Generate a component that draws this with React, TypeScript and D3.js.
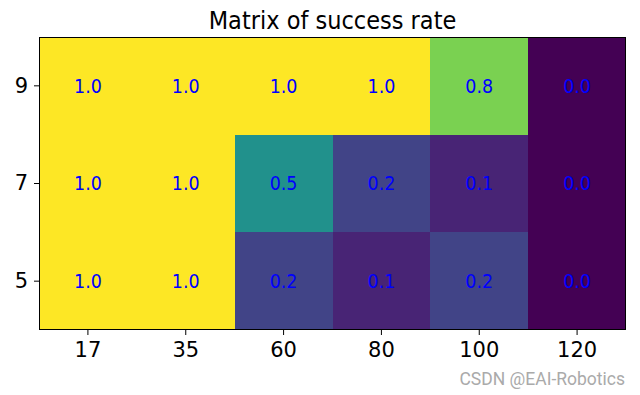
import { useEffect, useRef } from "react";
import * as d3 from "d3";

const xLabels = ["17", "35", "60", "80", "100", "120"];
const yLabels = ["9", "7", "5"];
const row9 = [1.0, 1.0, 1.0, 1.0, 0.8, 0.0];
const row7 = [1.0, 1.0, 0.5, 0.2, 0.1, 0.0];
const row5 = [1.0, 1.0, 0.2, 0.1, 0.2, 0.0];
const rows = [row9, row7, row5];

export default function App() {
  const svgRef = useRef<SVGSVGElement | null>(null);

  useEffect(() => {
    if (!svgRef.current) return;
    const W = 640;
    const H = 395;
    const margin = { top: 37, right: 14, bottom: 65, left: 39 };
    const width = W - margin.left - margin.right;
    const height = H - margin.top - margin.bottom;

    const root = d3.select(svgRef.current);
    root.selectAll("*").remove();
    root.attr("width", W).attr("height", H);

    root.append("rect").attr("width", W).attr("height", H).attr("fill", "#fff");

    const svg = root
      .append("g")
      .attr("transform", `translate(${margin.left},${margin.top})`);

    const x = d3.scaleBand().domain(xLabels).range([0, width]);
    const y = d3.scaleBand().domain(yLabels).range([0, height]);
    const color = d3.scaleSequential(d3.interpolateViridis).domain([0, 1]);

    const cells = rows.flatMap((r, i) =>
      r.map((v, j) => ({ row: yLabels[i], col: xLabels[j], v }))
    );

    svg
      .selectAll("rect.cell")
      .data(cells)
      .enter()
      .append("rect")
      .attr("class", "cell")
      .attr("x", (d) => Math.round(x(d.col) ?? 0))
      .attr("y", (d) => Math.round(y(d.row) ?? 0))
      .attr("width", (d) => Math.round((x(d.col) ?? 0) + x.bandwidth()) - Math.round(x(d.col) ?? 0))
      .attr("height", (d) => Math.round((y(d.row) ?? 0) + y.bandwidth()) - Math.round(y(d.row) ?? 0))
      .attr("shape-rendering", "crispEdges")
      .attr("fill", (d) => color(d.v));

    // cell labels, slightly stretched vertically like the reference
    svg
      .selectAll("text.val")
      .data(cells)
      .enter()
      .append("text")
      .attr("class", "val")
      .attr(
        "transform",
        (d) =>
          `translate(${(x(d.col) ?? 0) + x.bandwidth() / 2},${(y(d.row) ?? 0) + y.bandwidth() / 2}) scale(1,1.1)`
      )
      .attr("text-anchor", "middle")
      .attr("dominant-baseline", "central")
      .attr("font-family", "DejaVu Sans")
      .attr("font-size", 17.5)
      .attr("fill", "#0000ff")
      .text((d) => d.v.toFixed(1));

    // frame
    svg
      .append("rect")
      .attr("x", 0.5)
      .attr("y", 0.5)
      .attr("width", width - 1)
      .attr("height", height - 1)
      .attr("fill", "none")
      .attr("stroke", "#000")
      .attr("stroke-width", 1);

    const xAxis = svg
      .append("g")
      .attr("transform", `translate(0,${height})`)
      .call(d3.axisBottom(x).tickSize(5).tickPadding(7));
    const yAxis = svg.append("g").call(d3.axisLeft(y).tickSize(5).tickPadding(6));

    [xAxis, yAxis].forEach((a) => {
      a.select(".domain").remove();
      a.selectAll("text")
        .attr("font-family", "DejaVu Sans")
        .attr("font-size", 21)
        .attr("fill", "#000");
    });

    root
      .append("text")
      .attr("transform", `translate(${margin.left + width / 2},29) scale(1,1.08)`)
      .attr("text-anchor", "middle")
      .attr("font-family", "DejaVu Sans")
      .attr("font-size", 22.5)
      .text("Matrix of success rate");

    root
      .append("text")
      .attr("x", 625)
      .attr("y", 385)
      .attr("text-anchor", "end")
      .attr("font-family", "Liberation Sans Narrow, Roboto, sans-serif")
      .attr("font-size", 17.5)
      .attr("fill", "#aaa")
      .text("CSDN @EAI-Robotics");
  }, []);

  return (
    <div style={{ position: "absolute", left: 0, top: 0 }}>
      <svg ref={svgRef}></svg>
    </div>
  );
}
